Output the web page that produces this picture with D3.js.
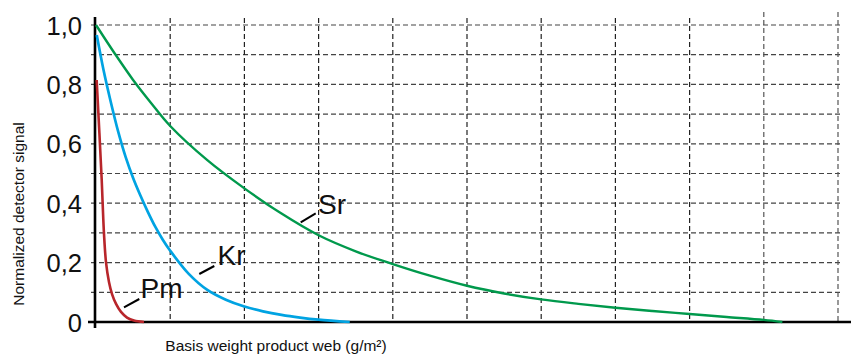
<!DOCTYPE html>
<html>
<head>
<meta charset="utf-8">
<script src="https://cdn.jsdelivr.net/npm/d3@7"></script>
<style>
  html, body { margin: 0; padding: 0; background: #fff; }
  svg { display: block; font-family: "Liberation Sans", Arial, sans-serif; }
</style>
</head>
<body>
<svg id="chart" width="853" height="354"></svg>
<script>
// ---- data (x in grid units of basis weight, y = normalized signal) ----
const yTickValues = [0, 0.2, 0.4, 0.6, 0.8, 1.0];
const yTickLabels = ["0", "0,2", "0,4", "0,6", "0,8", "1,0"];
const yGridValues = [0.1, 0.2, 0.3, 0.4, 0.5, 0.6, 0.7, 0.8, 0.9, 1.0];
const xGridValues = [1, 2, 3, 4, 5, 6, 7, 8, 9, 10];

const srX = [0, 0.25, 0.5, 0.75, 1, 1.5, 2, 2.5, 3, 3.5, 4, 4.5, 5, 5.5, 6, 6.5, 7, 7.5, 8, 8.5, 9, 9.25];
const srY = [1.0, 0.905, 0.815, 0.735, 0.66, 0.545, 0.45, 0.365, 0.292, 0.238, 0.195, 0.156, 0.122, 0.096, 0.076, 0.061, 0.048, 0.037, 0.027, 0.017, 0.007, 0.0];

const krX = [0.01, 0.1, 0.2, 0.3, 0.4, 0.5, 0.6, 0.7, 0.8, 0.9, 1.0, 1.25, 1.5, 1.75, 2.0, 2.25, 2.5, 2.75, 3.0, 3.42];
const krY = [0.966, 0.85, 0.74, 0.64, 0.555, 0.485, 0.425, 0.37, 0.32, 0.277, 0.24, 0.162, 0.108, 0.075, 0.052, 0.036, 0.024, 0.015, 0.008, 0.0];

const pmX = [0.009, 0.077, 0.09, 0.108, 0.135, 0.175, 0.216, 0.27, 0.337, 0.418, 0.512, 0.647];
const pmY = [0.815, 0.478, 0.397, 0.296, 0.201, 0.135, 0.094, 0.061, 0.034, 0.015, 0.005, 0.0];

const seriesNames = ["Sr", "Kr", "Pm"];
const seriesColors = ["#00994c", "#00a3e2", "#b8262b"];

const yTitle = "Normalized detector signal";
const xTitle = "Basis weight product web (g/m²)";

// ---- layout ----
const svg = d3.select("#chart");
const x = d3.scaleLinear().domain([0, 10]).range([96, 838]);
const y = d3.scaleLinear().domain([0, 1]).range([322, 25]);

// horizontal grid
svg.append("g").selectAll("line").data(yGridValues).join("line")
  .attr("x1", 91).attr("x2", 842)
  .attr("y1", d => y(d)).attr("y2", d => y(d))
  .attr("stroke", "#444").attr("stroke-width", 1.2)
  .attr("stroke-dasharray", "5,3");

// vertical grid
svg.append("g").selectAll("line").data(xGridValues).join("line")
  .attr("x1", d => x(d)).attr("x2", d => x(d))
  .attr("y1", d => d >= 9 ? 12 : 18).attr("y2", y(0))
  .attr("stroke", d => d >= 9 ? "#555" : "#222").attr("stroke-width", 1.2)
  .attr("stroke-dasharray", "5,3");

// axes lines
svg.append("line").attr("x1", 95).attr("x2", 95).attr("y1", 17).attr("y2", 328)
  .attr("stroke", "#000").attr("stroke-width", 2.6);
svg.append("line").attr("x1", 88).attr("x2", 851).attr("y1", y(0)).attr("y2", y(0))
  .attr("stroke", "#000").attr("stroke-width", 2.6);

// y tick labels via axis
const yAxis = d3.axisLeft(y).tickValues(yTickValues)
  .tickFormat((d, i) => yTickLabels[i]).tickSize(0).tickPadding(0);
const gy = svg.append("g").attr("transform", "translate(82,0)").call(yAxis);
gy.select(".domain").remove();
gy.selectAll("text")
  .attr("font-family", "'Liberation Sans', Arial, sans-serif")
  .attr("font-size", 25.5).attr("fill", "#111")
  .attr("dy", "0.36em");

// curves
const line = d3.line().x(d => x(d[0])).y(d => y(d[1])).curve(d3.curveCatmullRom.alpha(0.5));
const seriesData = [
  d3.zip(srX, srY),
  d3.zip(krX, krY),
  d3.zip(pmX, pmY)
];
const widths = [2.4, 2.7, 2.6];
svg.append("g").selectAll("path").data(seriesData).join("path")
  .attr("d", line)
  .attr("fill", "none")
  .attr("stroke", (d, i) => seriesColors[i])
  .attr("stroke-width", (d, i) => widths[i])
  .attr("stroke-linecap", "butt");

// series labels with leader lines
const labels = [
  { name: seriesNames[0], tx: 318, ty: 213.5, l: [300.7, 222.3, 315.7, 213.3] },
  { name: seriesNames[1], tx: 217.5, ty: 265, l: [199.3, 274, 214.3, 266] },
  { name: seriesNames[2], tx: 140.5, ty: 298.3, l: [124, 307.3, 139.3, 299] }
];
const lg = svg.append("g");
labels.forEach(o => {
  lg.append("line").attr("x1", o.l[0]).attr("y1", o.l[1]).attr("x2", o.l[2]).attr("y2", o.l[3])
    .attr("stroke", "#000").attr("stroke-width", 2);
  lg.append("text").attr("x", o.tx).attr("y", o.ty)
    .attr("font-size", 28).attr("fill", "#111").text(o.name);
});

// axis titles
svg.append("text")
  .attr("transform", "translate(24,214) rotate(-90)")
  .attr("text-anchor", "middle").attr("font-size", 15.5).attr("fill", "#111")
  .text(yTitle);
svg.append("text")
  .attr("x", 276).attr("y", 351)
  .attr("text-anchor", "middle").attr("font-size", 15.5).attr("fill", "#111")
  .text(xTitle);
</script>
</body>
</html>
